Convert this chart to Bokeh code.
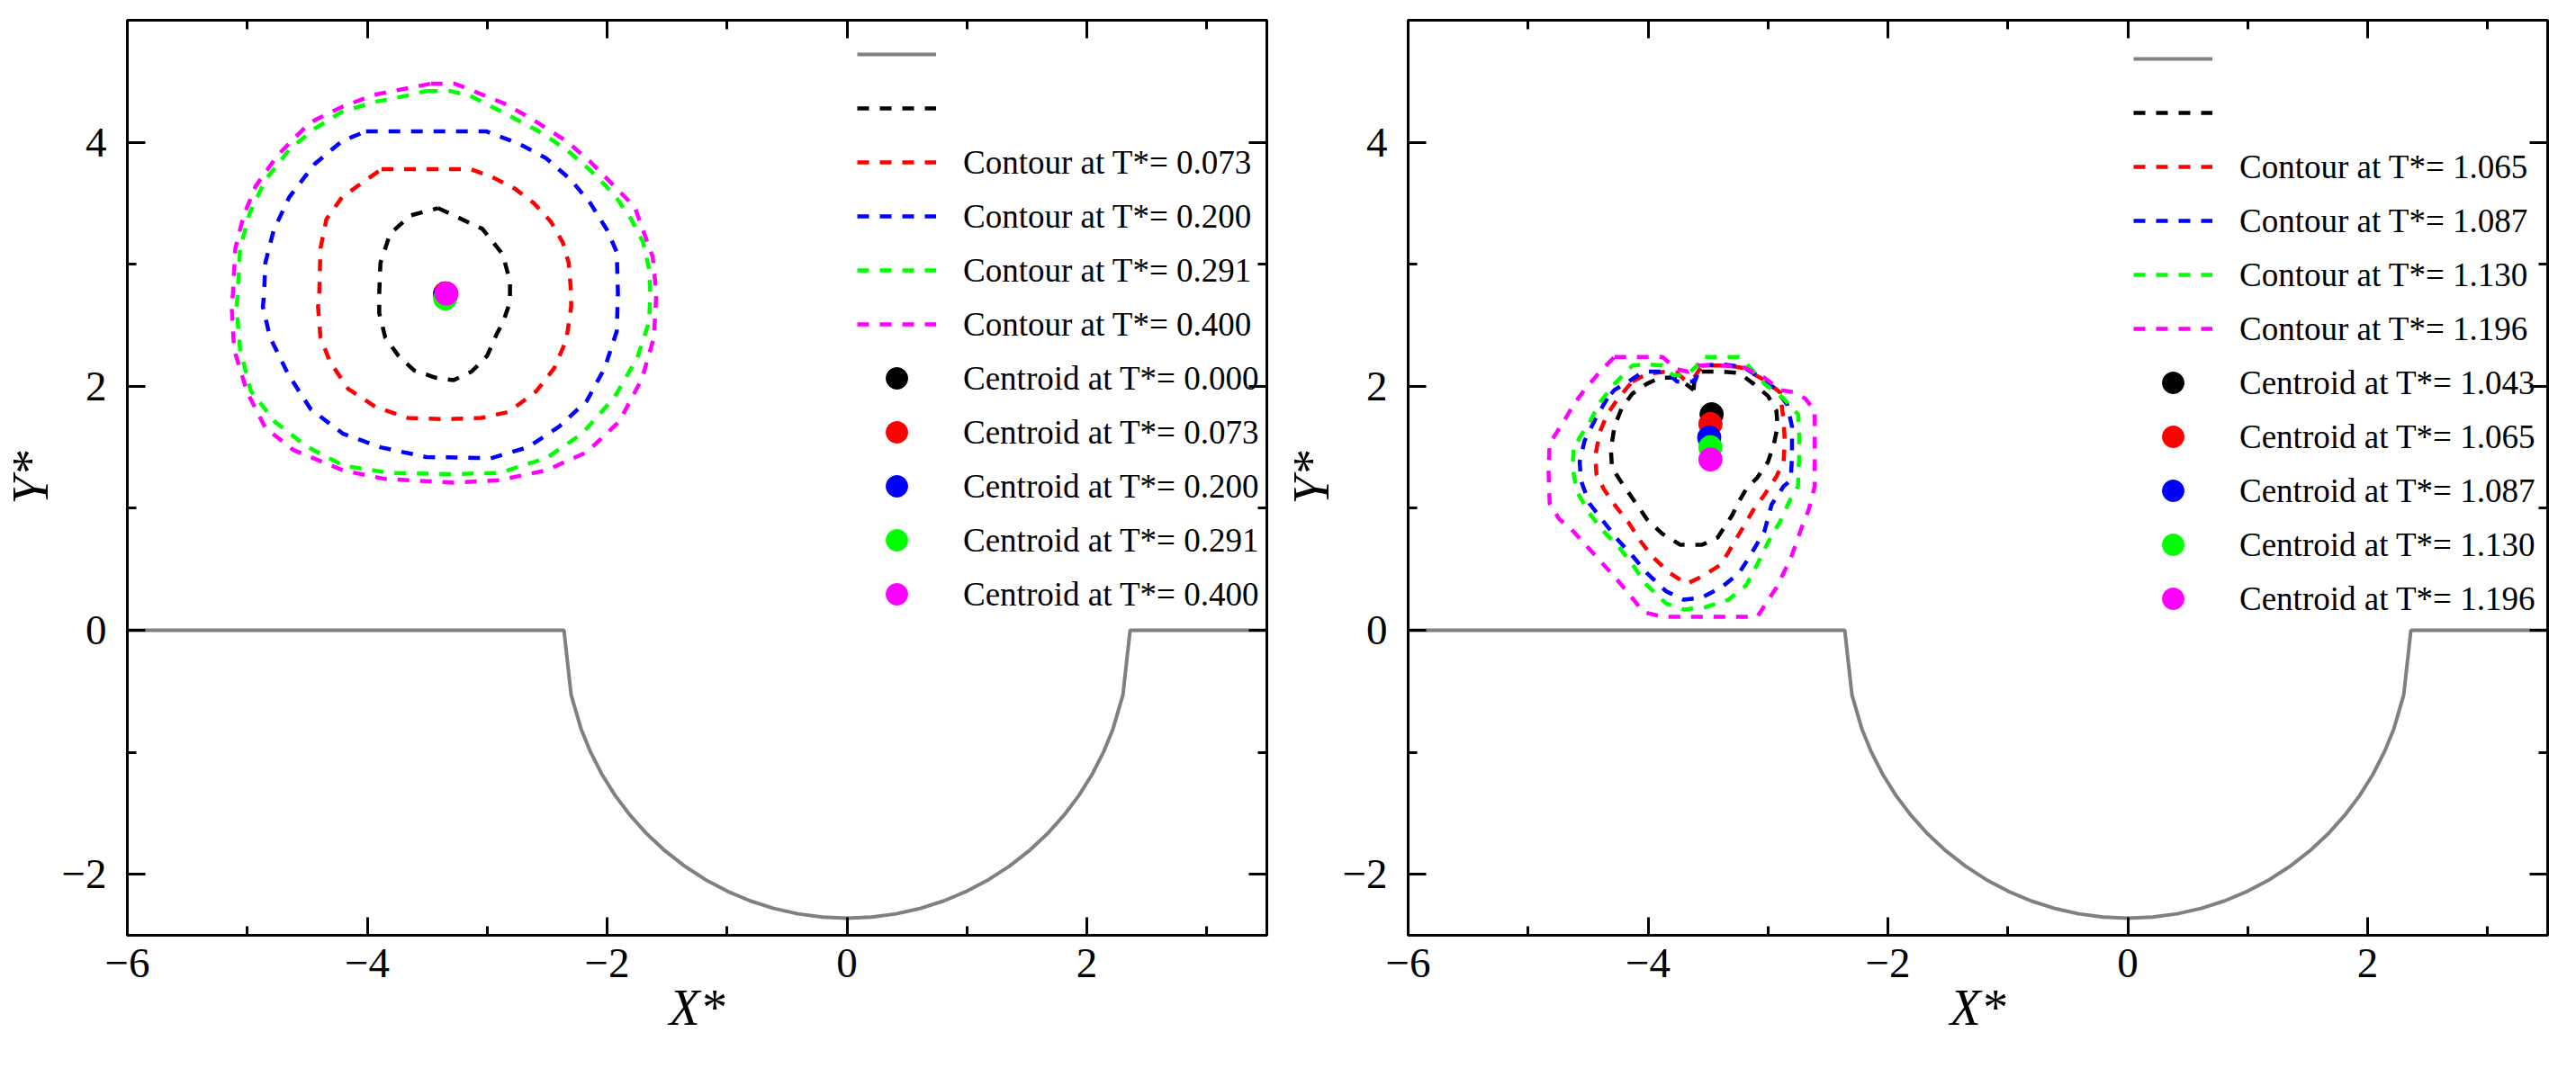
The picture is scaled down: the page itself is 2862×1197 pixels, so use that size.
from bokeh.plotting import figure
from bokeh.models import Range1d, LinearAxis, FixedTicker, Legend, LegendItem
from bokeh.layouts import row
from bokeh.embed import file_html
from bokeh.resources import INLINE

# ---------------- data ----------------
x_ticks = [-6, -4, -2, 0, 2]
x_minor = [-5, -3, -1, 1, 3]
x_tick_labels = ["\u22126", "\u22124", "\u22122", "0", "2"]
y_ticks = [-2, 0, 2, 4]
y_minor = [-1, 1, 3]
y_tick_labels = ["\u22122", "0", "2", "4"]

# wall boundary (flat bed with semicircular cavity)
wall_x = [-6.0, -2.36, -2.30, -2.218, -2.139, -2.044, -1.933, -1.808, -1.669, -1.517, -1.354, -1.180,
          -0.997, -0.807, -0.611, -0.410, -0.206, 0.0, 0.206, 0.410, 0.611, 0.807, 0.997, 1.180,
          1.354, 1.517, 1.669, 1.808, 1.933, 2.044, 2.139, 2.218, 2.30, 2.36, 3.5]
wall_y = [0.0, 0.0, -0.53, -0.807, -0.997, -1.180, -1.354, -1.517, -1.669, -1.808, -1.933, -2.044,
          -2.139, -2.218, -2.280, -2.324, -2.351, -2.36, -2.351, -2.324, -2.280, -2.218, -2.139, -2.044,
          -1.933, -1.808, -1.669, -1.517, -1.354, -1.180, -0.997, -0.807, -0.53, 0.0, 0.0]

# ---- left panel ----
L_times_contour = ["0.073", "0.200", "0.291", "0.400"]
L_times_centroid = ["0.000", "0.073", "0.200", "0.291", "0.400"]

L0_x = [-3.41, -3.04, -2.87, -2.81, -2.81, -2.87, -2.92, -3.00, -3.13, -3.28, -3.43, -3.61, -3.74, -3.85, -3.90, -3.90, -3.89, -3.81, -3.64, -3.41]
L0_y = [3.46, 3.29, 3.08, 2.86, 2.69, 2.52, 2.43, 2.25, 2.12, 2.05, 2.07, 2.13, 2.25, 2.40, 2.60, 2.76, 3.01, 3.25, 3.40, 3.46]

L1_x = [-3.88, -3.51, -3.14, -2.97, -2.77, -2.61, -2.47, -2.37, -2.32, -2.30, -2.30, -2.34, -2.44, -2.59, -2.82, -3.05, -3.36, -3.66, -3.93, -4.16, -4.31, -4.39, -4.41, -4.40, -4.39, -4.34, -4.21, -4.04, -3.88]
L1_y = [3.78, 3.78, 3.78, 3.72, 3.62, 3.50, 3.35, 3.18, 3.01, 2.76, 2.65, 2.38, 2.15, 1.96, 1.79, 1.74, 1.73, 1.74, 1.83, 1.98, 2.20, 2.40, 2.65, 2.76, 3.13, 3.37, 3.55, 3.67, 3.78]

L2_x = [-4.01, -3.51, -3.01, -2.74, -2.51, -2.30, -2.14, -2.00, -1.92, -1.91, -1.92, -2.02, -2.17, -2.40, -2.66, -2.97, -3.51, -3.89, -4.20, -4.47, -4.66, -4.81, -4.87, -4.86, -4.85, -4.78, -4.65, -4.44, -4.21, -4.01]
L2_y = [4.09, 4.09, 4.09, 3.99, 3.87, 3.69, 3.50, 3.28, 3.10, 2.76, 2.45, 2.15, 1.88, 1.67, 1.50, 1.41, 1.42, 1.50, 1.61, 1.81, 2.10, 2.40, 2.65, 2.76, 3.01, 3.28, 3.55, 3.82, 4.01, 4.09]

L3_x = [-3.51, -3.31, -3.14, -2.84, -2.57, -2.34, -2.14, -1.94, -1.80, -1.70, -1.65, -1.64, -1.65, -1.75, -1.94, -2.21, -2.51, -2.90, -3.28, -3.82, -4.20, -4.51, -4.77, -4.97, -5.06, -5.09, -5.08, -5.06, -4.98, -4.85, -4.65, -4.44, -4.21, -3.94, -3.68, -3.51]
L3_y = [4.42, 4.42, 4.38, 4.23, 4.09, 3.94, 3.77, 3.57, 3.37, 3.18, 2.96, 2.76, 2.53, 2.23, 1.91, 1.61, 1.41, 1.29, 1.28, 1.29, 1.35, 1.51, 1.71, 1.96, 2.30, 2.65, 2.76, 3.13, 3.42, 3.69, 3.94, 4.11, 4.25, 4.33, 4.38, 4.42]

L4_x = [-3.47, -3.27, -3.14, -2.84, -2.61, -2.34, -2.14, -1.94, -1.77, -1.69, -1.62, -1.59, -1.61, -1.71, -1.90, -2.17, -2.51, -2.90, -3.28, -3.85, -4.20, -4.62, -4.85, -5.00, -5.11, -5.13, -5.12, -5.10, -5.03, -4.93, -4.75, -4.48, -4.21, -3.94, -3.68, -3.47]
L4_y = [4.48, 4.48, 4.43, 4.31, 4.18, 4.01, 3.84, 3.64, 3.47, 3.25, 3.06, 2.76, 2.40, 2.06, 1.71, 1.46, 1.31, 1.23, 1.21, 1.24, 1.31, 1.48, 1.66, 1.95, 2.30, 2.65, 2.76, 3.13, 3.40, 3.64, 3.89, 4.16, 4.29, 4.39, 4.44, 4.48]

L_cent_x = [-3.35, -3.35, -3.35, -3.35, -3.34]
L_cent_y = [2.76, 2.76, 2.75, 2.72, 2.76]

# ---- right panel ----
R_times_contour = ["1.065", "1.087", "1.130", "1.196"]
R_times_centroid = ["1.043", "1.065", "1.087", "1.130", "1.196"]

R0_x = [-3.62, -3.61, -3.55, -3.39, -3.24, -3.12, -3.00, -2.93, -2.92, -2.95, -3.00, -3.09, -3.18, -3.24, -3.30, -3.42, -3.55, -3.73, -3.88, -4.01, -4.10, -4.20, -4.30, -4.31, -4.28, -4.22, -4.13, -4.01, -3.90, -3.79, -3.70, -3.62]
R0_y = [1.97, 2.09, 2.12, 2.12, 2.11, 2.02, 1.92, 1.80, 1.67, 1.53, 1.38, 1.25, 1.16, 1.06, 0.94, 0.76, 0.70, 0.70, 0.79, 0.91, 1.04, 1.18, 1.33, 1.48, 1.67, 1.82, 1.94, 2.02, 2.07, 2.07, 2.03, 1.97]

R1_x = [-4.13, -4.01, -3.85, -3.76, -3.68, -3.61, -3.55, -3.33, -3.21, -3.03, -2.90, -2.87, -2.86, -2.87, -2.93, -3.03, -3.12, -3.21, -3.30, -3.39, -3.55, -3.68, -3.82, -3.97, -4.07, -4.16, -4.28, -4.37, -4.43, -4.44, -4.40, -4.34, -4.25, -4.13]
R1_y = [2.04, 2.10, 2.12, 2.11, 2.04, 2.08, 2.17, 2.17, 2.15, 2.05, 1.95, 1.72, 1.55, 1.38, 1.26, 1.11, 0.99, 0.84, 0.69, 0.54, 0.44, 0.38, 0.47, 0.61, 0.74, 0.88, 1.03, 1.16, 1.28, 1.43, 1.63, 1.77, 1.90, 2.04]

R2_x = [-4.34, -4.43, -4.53, -4.57, -4.56, -4.49, -4.37, -4.25, -4.13, -4.01, -3.85, -3.70, -3.55, -3.39, -3.24, -3.15, -3.03, -2.97, -2.87, -2.81, -2.80, -2.80, -2.84, -2.93, -3.06, -3.21, -3.39, -3.56, -3.61, -3.76, -3.85, -4.04, -4.16, -4.28, -4.34]
R2_y = [1.90, 1.75, 1.55, 1.38, 1.23, 1.04, 0.89, 0.74, 0.61, 0.47, 0.32, 0.25, 0.27, 0.35, 0.47, 0.61, 0.81, 1.03, 1.18, 1.23, 1.43, 1.67, 1.85, 1.97, 2.07, 2.16, 2.18, 2.17, 2.04, 2.04, 2.12, 2.12, 2.04, 1.97, 1.90]

R3_x = [-4.62, -4.63, -4.59, -4.49, -4.37, -4.25, -4.13, -4.01, -3.85, -3.70, -3.52, -3.33, -3.18, -3.09, -3.00, -2.90, -2.81, -2.75, -2.74, -2.74, -2.75, -2.87, -3.03, -3.21, -3.24, -3.56, -3.59, -3.68, -3.79, -3.88, -4.01, -4.13, -4.28, -4.40, -4.49, -4.57, -4.62]
R3_y = [1.48, 1.33, 1.13, 0.96, 0.81, 0.69, 0.54, 0.37, 0.22, 0.17, 0.19, 0.25, 0.37, 0.54, 0.72, 0.89, 1.08, 1.18, 1.43, 1.67, 1.77, 1.90, 2.02, 2.22, 2.24, 2.24, 2.17, 2.09, 2.09, 2.17, 2.18, 2.17, 2.02, 1.87, 1.70, 1.58, 1.48]

R4_x = [-4.28, -4.01, -3.88, -3.76, -3.67, -3.58, -3.39, -3.21, -3.03, -2.90, -2.78, -2.69, -2.61, -2.61, -2.61, -2.66, -2.72, -2.81, -2.93, -3.03, -3.09, -3.52, -3.88, -4.04, -4.16, -4.28, -4.40, -4.53, -4.65, -4.74, -4.82, -4.83, -4.82, -4.71, -4.62, -4.53, -4.40, -4.28]
R4_y = [2.24, 2.24, 2.24, 2.14, 2.12, 2.17, 2.17, 2.16, 2.07, 1.97, 1.95, 1.90, 1.80, 1.55, 1.18, 0.99, 0.84, 0.59, 0.35, 0.20, 0.11, 0.11, 0.11, 0.15, 0.30, 0.44, 0.57, 0.71, 0.84, 0.91, 1.04, 1.31, 1.53, 1.70, 1.85, 1.97, 2.12, 2.24]

R_cent_x = [-3.47, -3.48, -3.49, -3.48, -3.48]
R_cent_y = [1.77, 1.69, 1.58, 1.50, 1.40]

colors = ["black", "#ff0000", "#0000ff", "#00ff00", "#ff00ff"]
FONT = "Liberation Serif"


def make_panel(contours, cent_x, cent_y, t_cont, t_cent, width, bl, br, legend_loc):
    p = figure(width=width, height=1179, x_range=Range1d(-6, 3.5), y_range=Range1d(-2.5, 5),
               output_backend="svg", toolbar_location=None,
               min_border_left=bl, min_border_right=br, min_border_top=22, min_border_bottom=140)
    p.grid.visible = False
    p.outline_line_color = "black"
    p.outline_line_width = 3
    p.background_fill_color = "white"

    xt = FixedTicker(ticks=x_ticks, minor_ticks=x_minor)
    yt = FixedTicker(ticks=y_ticks, minor_ticks=y_minor)

    top = LinearAxis(ticker=xt)
    right = LinearAxis(ticker=yt)
    p.add_layout(top, "above")
    p.add_layout(right, "right")

    for ax in p.xaxis:
        ax.ticker = xt
    for ax in p.yaxis:
        ax.ticker = yt

    for ax in list(p.xaxis) + list(p.yaxis):
        ax.axis_line_width = 3
        ax.major_tick_line_width = 3
        ax.minor_tick_line_width = 3
        ax.major_tick_in = 20
        ax.major_tick_out = 0
        ax.minor_tick_in = 10
        ax.minor_tick_out = 0
        ax.major_label_text_font = FONT
        ax.major_label_text_font_size = "47px"
        ax.major_label_text_color = "black"
        ax.axis_label_text_font = FONT
        ax.axis_label_text_font_size = "56px"
        ax.axis_label_text_font_style = "italic"
        ax.axis_label_text_color = "black"

    bottom = p.below[0]
    left = p.left[0]
    bottom.major_label_overrides = dict(zip(x_ticks, x_tick_labels))
    left.major_label_overrides = dict(zip(y_ticks, y_tick_labels))
    bottom.axis_label = "X*"
    left.axis_label = "Y*"
    bottom.major_label_standoff = 15
    left.major_label_standoff = 23
    bottom.axis_label_standoff = 0
    left.axis_label_standoff = 0

    top.major_label_overrides = {t: "" for t in x_ticks}
    right.major_label_overrides = {t: "" for t in y_ticks}
    for ax in (top, right):
        ax.major_label_text_font_size = "0px"
        ax.major_label_standoff = 0
        ax.axis_label_standoff = 0

    wall = p.line(wall_x, wall_y, line_color="#808080", line_width=4)

    cont_r = []
    for (cx, cy), c in zip(contours, colors):
        r = p.line(cx, cy, line_color=c, line_width=4.5, line_dash="13 12")
        cont_r.append(r)

    cent_r = []
    for x, y, c in zip(cent_x, cent_y, colors):
        r = p.scatter([x], [y], marker="circle", size=26, fill_color=c, line_color=c)
        cent_r.append(r)

    items = [LegendItem(label="", renderers=[wall]),
             LegendItem(label="", renderers=[cont_r[0]])]
    for r, t in zip(cont_r[1:], t_cont):
        items.append(LegendItem(label="Contour at T*= " + t, renderers=[r]))
    for r, t in zip(cent_r, t_cent):
        items.append(LegendItem(label="Centroid at T*= " + t, renderers=[r]))

    leg = Legend(items=items, location=legend_loc)
    leg.glyph_width = 88
    leg.glyph_height = 60
    leg.label_height = 60
    leg.spacing = 0
    leg.padding = 0
    leg.margin = 0
    leg.label_standoff = 30
    leg.label_text_font = FONT
    leg.label_text_font_size = "37px"
    leg.label_text_color = "black"
    leg.background_fill_alpha = 0
    leg.border_line_alpha = 0
    p.add_layout(leg)
    return p


p1 = make_panel([(L0_x, L0_y), (L1_x, L1_y), (L2_x, L2_y), (L3_x, L3_y), (L4_x, L4_y)],
                L_cent_x, L_cent_y, L_times_contour, L_times_centroid,
                width=1417, bl=140, br=10, legend_loc=(811, 349))
p2 = make_panel([(R0_x, R0_y), (R1_x, R1_y), (R2_x, R2_y), (R3_x, R3_y), (R4_x, R4_y)],
                R_cent_x, R_cent_y, R_times_contour, R_times_centroid,
                width=1425, bl=147, br=12, legend_loc=(806, 344))

layout = row(p1, p2)
open("out.html", "w").write(file_html(layout, INLINE))
